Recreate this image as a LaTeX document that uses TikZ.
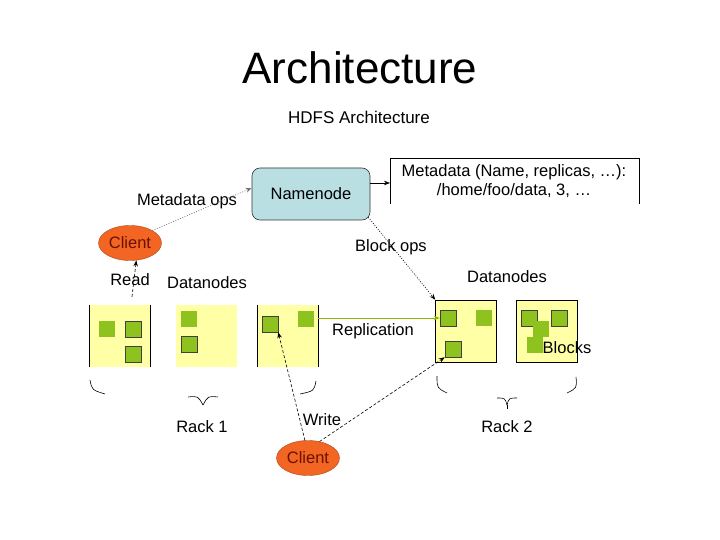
\documentclass[tikz,border=0pt]{standalone}
\usepackage{fontspec}
\setmainfont{Liberation Sans}
\usetikzlibrary{arrows.meta,shapes.geometric}
\definecolor{nnfill}{HTML}{B9DFE2}
\definecolor{clientfill}{HTML}{F26522}
\definecolor{clienttext}{HTML}{6B1000}
\definecolor{dnfill}{HTML}{FFFFA6}
\definecolor{blockfill}{HTML}{8DC21F}
\definecolor{replgreen}{HTML}{8DB600}
\definecolor{metaarrow}{HTML}{80205A}
\tikzset{
  lbl/.style={inner sep=0pt, font=\fontsize{16.5}{18}\selectfont},
  client/.style={ellipse, fill=clientfill, draw=clientfill!70!black, line width=0.4pt,
    minimum width=63pt, minimum height=35pt, inner sep=0pt,
    font=\fontsize{16.5}{18}\selectfont, text=clienttext},
  dnbox/.style={fill=dnfill, minimum width=61pt, minimum height=62pt, inner sep=0pt},
  dnframed/.style={dnbox, draw=black, line width=0.5pt},
  blk/.style={fill=blockfill, draw=black!75, line width=0.5pt, minimum size=16pt, inner sep=0pt},
  blkplain/.style={fill=blockfill, minimum size=16pt, inner sep=0pt},
  tip/.style={-{Stealth[length=6pt,width=4.5pt]}},
  dashedconn/.style={tip, dash pattern=on 3pt off 2pt, line width=0.6pt},
  dottedconn/.style={tip, dash pattern=on 1pt off 1.5pt, line width=0.6pt},
  brace/.style={line width=0.6pt}
}
\begin{document}
\begin{tikzpicture}[x=1pt,y=-1pt]
\useasboundingbox (0,0) rectangle (720,540);
\fill[white] (0,0) rectangle (720,540);

% titles
\node[lbl, font=\fontsize{44}{48}\selectfont] (title) at (360,68) {Architecture};
\node[lbl, font=\fontsize{17}{19}\selectfont] (sub) at (359,117) {HDFS Architecture};

% namenode
\node[draw=black!80, fill=nnfill, rounded corners=8pt, minimum width=118pt, minimum height=52pt,
      inner sep=0pt, font=\fontsize{16.5}{18}\selectfont, line width=0.6pt] (nn) at (311,194) {Namenode};

% metadata box (open bottom)
\coordinate (m1) at (390,204);
\coordinate (m2) at (390,158);
\coordinate (m3) at (639,158);
\coordinate (m4) at (639,204);
\coordinate (min) at (390,183);
\draw[line width=0.6pt] (m1) -- (m2) -- (m3) -- (m4);
\node[lbl, align=center] (meta) at (514,181) {Metadata (Name, replicas, …):\\[1pt]/home/foo/data, 3, …};

% clients
\node[client] (c1) at (130,243) {Client};
\node[client] (c2) at (308,458) {Client};

% datanode boxes
\node[dnbox] (b1) at (120,336) {};
\draw[line width=0.6pt] (b1.north west) -- (b1.south west) (b1.north east) -- (b1.south east);
\node[dnbox] (b2) at (206.5,336) {};
\node[dnbox] (b3) at (287.5,336) {};
\draw[line width=0.6pt] (b3.north west) -- (b3.south west) (b3.north east) -- (b3.south east);
\node[dnframed] (bA) at (466,331) {};
\node[dnframed] (bB) at (547,331) {};

% blocks
\node[blkplain] (s1a) at (107,329) {};
\node[blk] (s1b) at (133,329) {};
\node[blk] (s1c) at (133,354) {};
\node[blkplain] (s2a) at (189,318.5) {};
\node[blk] (s2b) at (189,344) {};
\node[blk] (s3a) at (270,324) {};
\node[blkplain] (s3b) at (305.5,318.5) {};
\node[blk] (sA1) at (448,318) {};
\node[blkplain] (sA2) at (484,318) {};
\node[blk] (sA3) at (453,349) {};
\node[blk] (sB1) at (529,318) {};
\node[blkplain] (sB2) at (540.5,329) {};
\node[blkplain] (sB3) at (534.5,344.5) {};
\node[blk] (sB4) at (559.5,318) {};

% labels
\node[lbl] (lmo) at (187,201) {Metadata ops};
\node[lbl] (lbo) at (391,247) {Block ops};
\node[lbl] (ldn1) at (207,283) {Datanodes};
\node[lbl] (ldn2) at (507,277) {Datanodes};
\node[lbl] (lread) at (130,280) {Read};
\node[lbl] (lrep) at (373,331) {Replication};
\node[lbl] (lblk) at (567,348) {Blocks};
\node[lbl] (lr1) at (202,427) {Rack 1};
\node[lbl] (lr2) at (507,427) {Rack 2};
\node[lbl] (lwrite) at (322,420) {Write};

% connectors
\draw[dottedconn, draw=black!55, -{Stealth[length=6pt,width=4.5pt,fill=metaarrow]}] (c1.north east) -- ([yshift=6pt]nn.west);
\draw[tip, line width=0.6pt] ([yshift=11pt]nn.east) -- (min);
\draw[dottedconn] ([xshift=-2pt,yshift=3pt]nn.south east) -- (bA.north west);
\draw[dashedconn] ([xshift=12pt,yshift=8pt]b1.north) -- (c1.290);
\draw[tip, draw=replgreen, line width=0.8pt] ([yshift=18pt]b3.east) -- (sA1.west);
\draw[dashedconn] (c2.100) -- (s3a.south east);
\draw[dashedconn] (c2.55) -- (sA3.south west);

% rack 1 brace pieces
\draw[brace] (90,380) .. controls (92,390) .. (105,394);
\draw[brace] (316,381) .. controls (314,391) .. (300,394);
\draw[brace] (188,397) .. controls (198,396) .. (203,405);
\draw[brace] (218,397) .. controls (208,396) .. (203,405);
% rack 2 brace pieces
\draw[brace] (437,376) .. controls (437,388) .. (447,393);
\draw[brace] (576,377) .. controls (577,388) .. (567,393);
\draw[brace] (497,398) .. controls (505,398) .. (507,405);
\draw[brace] (517,398) .. controls (509,398) .. (507,405);
\draw[brace] (507,405) -- (507,409);
\end{tikzpicture}
\end{document}
